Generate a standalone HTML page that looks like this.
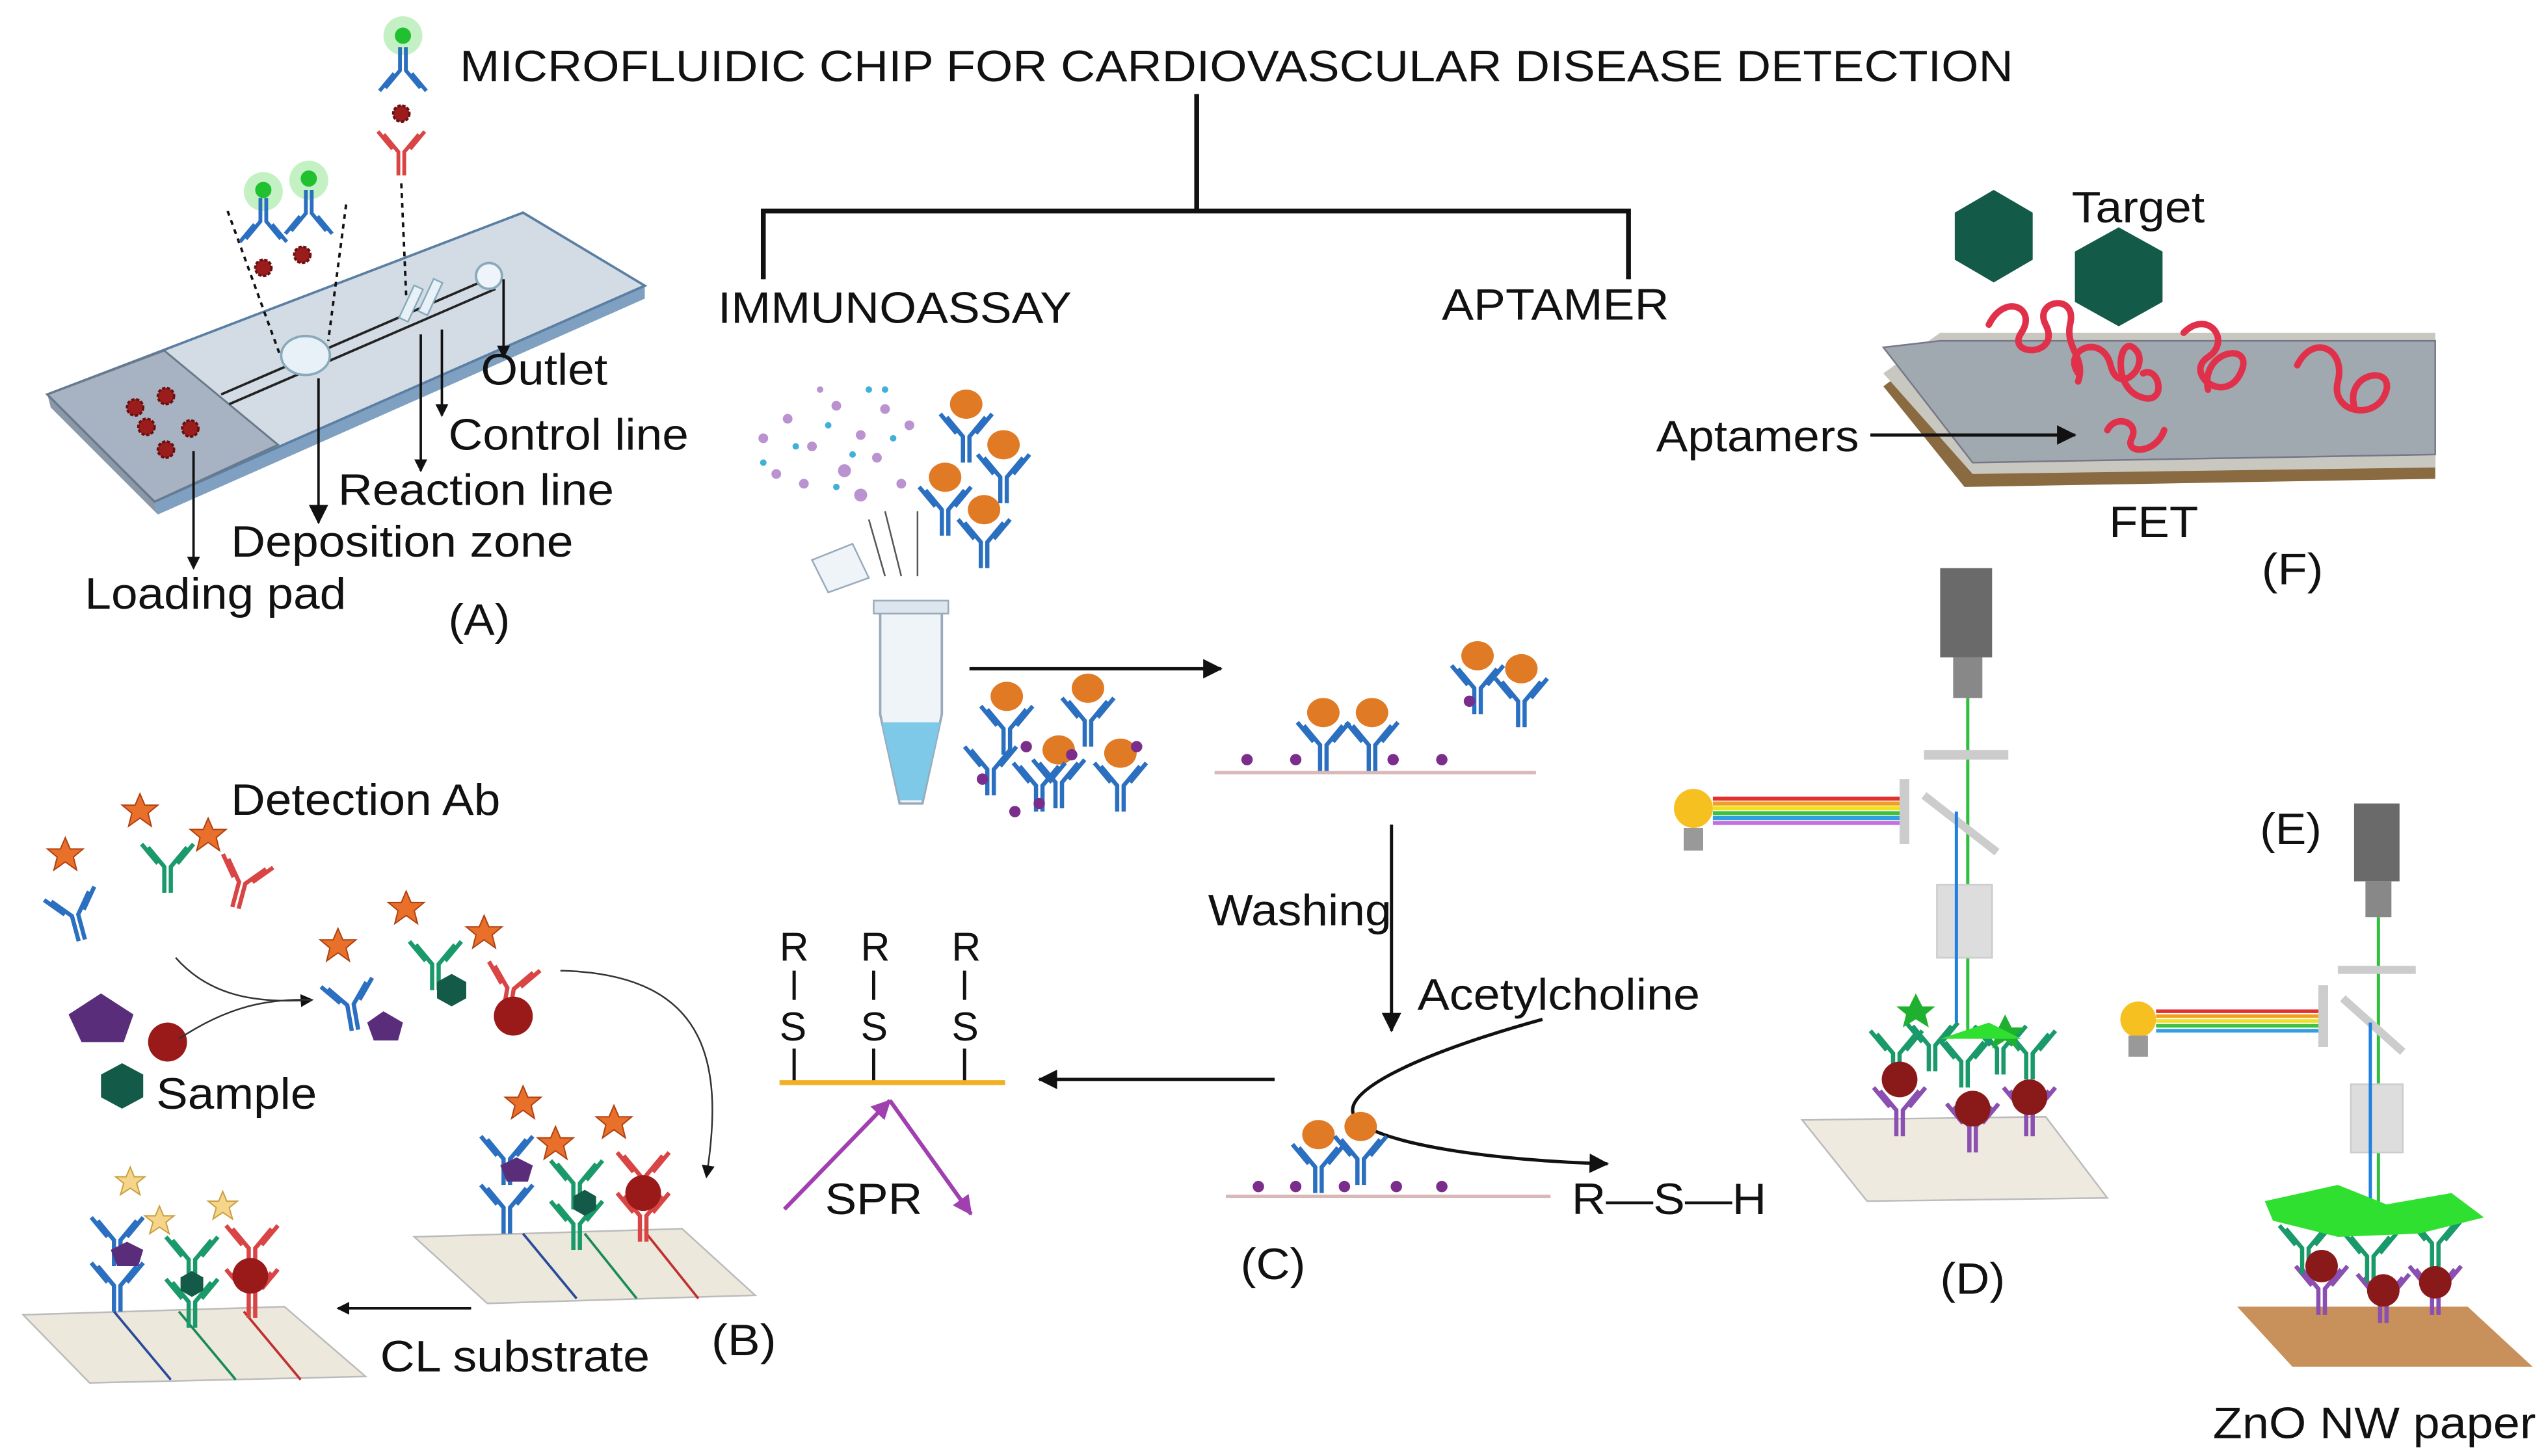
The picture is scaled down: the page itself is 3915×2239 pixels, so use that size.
<!DOCTYPE html>
<html><head><meta charset="utf-8"><style>
html,body{margin:0;padding:0;background:#fff;}
svg{display:block}
text{font-family:"Liberation Sans",Arial,sans-serif;fill:#111;}
</style></head><body>
<svg width="3915" height="2239" viewBox="0 0 1568 897" xmlns="http://www.w3.org/2000/svg">
<defs>
<marker id="ah" markerWidth="8" markerHeight="8" refX="7" refY="4" orient="auto" markerUnits="userSpaceOnUse"><path d="M0,0 L8,4 L0,8 Z" fill="#111"/></marker>
<marker id="ahs" markerWidth="12" markerHeight="12" refX="11" refY="6" orient="auto" markerUnits="userSpaceOnUse"><path d="M0,0 L12,6 L0,12 Z" fill="#111"/></marker>
<marker id="ahp" markerWidth="12" markerHeight="12" refX="11" refY="6" orient="auto" markerUnits="userSpaceOnUse"><path d="M0,0 L12,6 L0,12 Z" fill="#a040b0"/></marker>
<g id="abB"><g fill="none" stroke="#2a6fc0" stroke-width="2.6"><path d="M-2,20 V4 L-12,-8 M2,20 V4 L12,-8 M-6,2 L-16,-10 M6,2 L16,-10"/></g></g>
<g id="abR"><g fill="none" stroke="#d94545" stroke-width="2.6"><path d="M-2,20 V4 L-12,-8 M2,20 V4 L12,-8 M-6,2 L-16,-10 M6,2 L16,-10"/></g></g>
<g id="abG"><g fill="none" stroke="#1a9a6a" stroke-width="2.6"><path d="M-2,20 V4 L-12,-8 M2,20 V4 L12,-8 M-6,2 L-16,-10 M6,2 L16,-10"/></g></g>
<g id="abP"><g fill="none" stroke="#8a4fb0" stroke-width="2.6"><path d="M-2,20 V4 L-12,-8 M2,20 V4 L12,-8 M-6,2 L-16,-10 M6,2 L16,-10"/></g></g>
<g id="fab"><ellipse cx="0" cy="-16" rx="10" ry="9" fill="#e07a25"/><use href="#abB"/></g>
<polygon id="star" points="0,-11 3,-4 11,-4 5,1 7,9 0,4 -7,9 -5,1 -11,-4 -3,-4" fill="#e8702a" stroke="#b04010" stroke-width="0.8"/>
<polygon id="starL" points="0,-9 2.5,-3 9,-3 4,1 6,8 0,4 -6,8 -4,1 -9,-3 -2.5,-3" fill="#f5d58a" stroke="#c9a040" stroke-width="0.8"/>
<circle id="ag" r="5" fill="#9a1c1c" stroke="#6a0f0f" stroke-width="1.5" stroke-dasharray="2 1"/>
</defs>

<text x="283" y="50" font-size="27" textLength="957" lengthAdjust="spacingAndGlyphs">MICROFLUIDIC CHIP FOR CARDIOVASCULAR DISEASE DETECTION</text>
<path d="M737,58 V130 M470,172 V130 H1003 V172" fill="none" stroke="#111" stroke-width="3"/>
<text x="442" y="199" font-size="27" textLength="218" lengthAdjust="spacingAndGlyphs">IMMUNOASSAY</text>
<text x="888" y="197" font-size="27" textLength="140" lengthAdjust="spacingAndGlyphs">APTAMER</text>

<!-- (A) chip -->
<polygon points="29,243 95,309 97,317 31,251" fill="#8a98a8"/>
<polygon points="95,309 397,176 397,184 97,317" fill="#7fa0c0"/>
<polygon points="29,243 322,131 397,176 95,309" fill="#d3dbe4" stroke="#5a7fa3" stroke-width="1.5"/>
<polygon points="29,243 101,216 171,274 95,309" fill="#a7b3c2" stroke="#6a7a8a" stroke-width="1.2"/>
<path d="M136,243 L300,172 M141,249 L305,178" stroke="#222" stroke-width="1.5"/>
<ellipse cx="188" cy="219" rx="15" ry="12" fill="#e8f0f8" stroke="#8ab" stroke-width="1.5"/>
<circle cx="301" cy="170" r="8" fill="#eef4fa" stroke="#8ab" stroke-width="1.5"/>
<rect x="250" y="176" width="6" height="22" fill="#e8f0f8" stroke="#8ab" transform="rotate(25 253 187)"/>
<rect x="262" y="172" width="6" height="22" fill="#e8f0f8" stroke="#8ab" transform="rotate(25 265 183)"/>
<use href="#ag" x="83" y="251"/><use href="#ag" x="102" y="244"/><use href="#ag" x="90" y="263"/><use href="#ag" x="117" y="264"/><use href="#ag" x="102" y="277"/>
<g stroke="#111" stroke-width="1.5" stroke-dasharray="3 3" fill="none"><path d="M140,130 L172,218 M213,126 L202,210 M247,113 L250,182"/></g>
<circle cx="162" cy="118" r="12" fill="#9de89d" opacity="0.6"/><circle cx="162" cy="117" r="5" fill="#20c030"/>
<circle cx="190" cy="111" r="12" fill="#9de89d" opacity="0.6"/><circle cx="190" cy="110" r="5" fill="#20c030"/>
<circle cx="248" cy="22" r="12" fill="#9de89d" opacity="0.6"/><circle cx="248" cy="22" r="5" fill="#20c030"/>
<use href="#abB" transform="translate(162,140) scale(0.9,-0.9)"/>
<use href="#abB" transform="translate(190,135) scale(0.9,-0.9)"/>
<use href="#abB" transform="translate(248,47) scale(0.9,-0.9)"/>
<use href="#abR" transform="translate(247,90) scale(0.9)"/>
<use href="#ag" x="162" y="165"/><use href="#ag" x="186" y="157"/><use href="#ag" x="247" y="70"/>
<g stroke="#111" stroke-width="1.5" fill="none">
<path d="M119,278 V350" marker-end="url(#ah)"/>
<path d="M196,233 V322" marker-end="url(#ahs)"/>
<path d="M259,206 V290" marker-end="url(#ah)"/>
<path d="M272,203 V256" marker-end="url(#ah)"/>
<path d="M310,172 V220" marker-end="url(#ah)"/>
</g>
<g font-size="27" lengthAdjust="spacingAndGlyphs">
<text x="296" y="237" textLength="78" lengthAdjust="spacingAndGlyphs">Outlet</text>
<text x="276" y="277" textLength="148" lengthAdjust="spacingAndGlyphs">Control line</text>
<text x="208" y="311" textLength="170" lengthAdjust="spacingAndGlyphs">Reaction line</text>
<text x="142" y="343" textLength="211" lengthAdjust="spacingAndGlyphs">Deposition zone</text>
<text x="52" y="375" textLength="161" lengthAdjust="spacingAndGlyphs">Loading pad</text>
<text x="276" y="391" textLength="38" lengthAdjust="spacingAndGlyphs">(A)</text>
</g>

<!-- Immunoassay -->
<g fill="#b080c8" opacity="0.85">
<circle cx="470" cy="270" r="3"/><circle cx="485" cy="258" r="3"/><circle cx="500" cy="275" r="3"/><circle cx="515" cy="250" r="3"/><circle cx="530" cy="268" r="3"/><circle cx="545" cy="252" r="3"/><circle cx="478" cy="292" r="3"/><circle cx="495" cy="298" r="3"/><circle cx="520" cy="290" r="4"/><circle cx="540" cy="282" r="3"/><circle cx="505" cy="240" r="2"/><circle cx="560" cy="262" r="3"/><circle cx="530" cy="305" r="4"/><circle cx="555" cy="298" r="3"/>
</g>
<g fill="#40b0d8"><circle cx="490" cy="275" r="2"/><circle cx="510" cy="262" r="2"/><circle cx="525" cy="280" r="2"/><circle cx="550" cy="270" r="2"/><circle cx="535" cy="240" r="2"/><circle cx="470" cy="285" r="2"/><circle cx="515" cy="300" r="2"/><circle cx="545" cy="240" r="2"/></g>
<use href="#fab" x="595" y="265"/><use href="#fab" x="618" y="290"/><use href="#fab" x="582" y="310"/><use href="#fab" x="606" y="330"/>
<path d="M545,315 L555,355 M565,315 L565,355 M535,320 L545,355" stroke="#555" stroke-width="1"/>
<path d="M542,375 H580 V440 L568,495 H554 L542,440 Z" fill="#eef4f8" stroke="#9ab" stroke-width="1.5"/>
<path d="M543,445 H579 L568,493 H554 Z" fill="#7ec8e8"/>
<path d="M500,345 L525,335 L535,356 L510,365 Z" fill="#eef4f8" stroke="#9ab"/>
<rect x="538" y="370" width="46" height="8" fill="#dde6ee" stroke="#9ab"/>
<path d="M597,412 H752" stroke="#111" stroke-width="2" marker-end="url(#ahs)"/>
<use href="#fab" x="620" y="445"/><use href="#fab" x="670" y="440"/><use href="#fab" x="652" y="478"/><use href="#fab" x="690" y="480"/><use href="#abB" x="610" y="470"/><use href="#abB" x="640" y="480"/>
<g fill="#7a2d8a"><circle cx="605" cy="480" r="3.5"/><circle cx="632" cy="460" r="3.5"/><circle cx="660" cy="465" r="3.5"/><circle cx="640" cy="495" r="3.5"/><circle cx="700" cy="460" r="3.5"/><circle cx="625" cy="500" r="3.5"/></g>
<line x1="748" y1="476" x2="946" y2="476" stroke="#d8b8b8" stroke-width="2"/>
<use href="#fab" x="815" y="455"/><use href="#fab" x="845" y="455"/><use href="#fab" x="910" y="420"/><use href="#fab" x="937" y="428"/>
<g fill="#7a2d8a"><circle cx="768" cy="468" r="3.5"/><circle cx="798" cy="468" r="3.5"/><circle cx="858" cy="468" r="3.5"/><circle cx="888" cy="468" r="3.5"/><circle cx="905" cy="432" r="3.5"/></g>
<path d="M857,508 V635" stroke="#111" stroke-width="2" marker-end="url(#ahs)"/>
<text x="744" y="570" font-size="27" textLength="113" lengthAdjust="spacingAndGlyphs">Washing</text>
<text x="873" y="622" font-size="27" textLength="174" lengthAdjust="spacingAndGlyphs">Acetylcholine</text>
<path d="M950,628 C870,650 820,675 836,690 C850,705 920,715 990,717" fill="none" stroke="#111" stroke-width="2" marker-end="url(#ahs)"/>
<line x1="755" y1="737" x2="955" y2="737" stroke="#d8b8b8" stroke-width="2"/>
<use href="#fab" x="812" y="715"/><use href="#fab" x="838" y="710"/>
<g fill="#7a2d8a"><circle cx="775" cy="731" r="3.5"/><circle cx="798" cy="731" r="3.5"/><circle cx="828" cy="731" r="3.5"/><circle cx="860" cy="731" r="3.5"/><circle cx="888" cy="731" r="3.5"/></g>
<text x="968" y="748" font-size="27" textLength="120" lengthAdjust="spacingAndGlyphs">R—S—H</text>
<text x="764" y="788" font-size="27" textLength="40" lengthAdjust="spacingAndGlyphs">(C)</text>
<path d="M785,665 H640" stroke="#111" stroke-width="2" marker-end="url(#ahs)"/>
<g font-size="25"><text x="480" y="592">R</text><text x="530" y="592">R</text><text x="586" y="592">R</text>
<text x="480" y="641">S</text><text x="530" y="641">S</text><text x="586" y="641">S</text></g>
<g stroke="#111" stroke-width="2"><path d="M489,598 V616 M538,598 V616 M594,598 V616 M489,646 V666 M538,646 V666 M594,646 V666"/></g>
<line x1="480" y1="667" x2="619" y2="667" stroke="#f0b020" stroke-width="3"/>
<path d="M483,745 L548,678" stroke="#a040b0" stroke-width="2.5" marker-end="url(#ahp)"/>
<path d="M548,678 L598,748" stroke="#a040b0" stroke-width="2.5" marker-end="url(#ahp)"/>
<text x="508" y="748" font-size="27" textLength="60" lengthAdjust="spacingAndGlyphs">SPR</text>

<!-- (B) -->
<text x="142" y="502" font-size="27" textLength="166" lengthAdjust="spacingAndGlyphs">Detection Ab</text>
<use href="#star" x="40" y="527"/><use href="#abB" transform="translate(45,560) rotate(-15)"/>
<use href="#star" x="86" y="500"/><use href="#abG" transform="translate(103,530)"/>
<use href="#star" x="128" y="515"/><use href="#abR" transform="translate(150,540) rotate(15)"/>
<polygon points="62,612 82,625 76,642 50,642 42,625" fill="#5a2d7a"/>
<circle cx="103" cy="642" r="12" fill="#9a1a1a"/>
<polygon points="75,655 88,662 88,676 75,683 62,676 62,662" fill="#145a48"/>
<text x="96" y="683" font-size="27" textLength="99" lengthAdjust="spacingAndGlyphs">Sample</text>
<path d="M108,590 C130,615 160,618 192,616" fill="none" stroke="#333" stroke-width="1" marker-end="url(#ah)"/>
<path d="M110,640 C140,620 165,615 192,616" fill="none" stroke="#333" stroke-width="1"/>
<use href="#star" x="208" y="583"/><use href="#abB" transform="translate(215,615) rotate(-10)"/>
<polygon points="236,623 248,630 245,641 230,641 226,630" fill="#5a2d7a"/>
<use href="#star" x="250" y="560"/><use href="#abG" transform="translate(268,590)"/>
<polygon points="278,600 287,605 287,615 278,620 269,615 269,605" fill="#145a48"/>
<use href="#star" x="298" y="575"/><use href="#abR" transform="translate(315,605) rotate(10)"/>
<circle cx="316" cy="626" r="12" fill="#9a1a1a"/>
<path d="M345,598 C440,600 445,660 435,725" fill="none" stroke="#333" stroke-width="1" marker-end="url(#ah)"/>
<polygon points="255,762 420,757 465,798 300,803" fill="#ece8dc" stroke="#bbb"/>
<g stroke-width="1.5"><line x1="322" y1="760" x2="355" y2="800" stroke="#2a4a9a"/><line x1="360" y1="760" x2="392" y2="800" stroke="#1a8a5a"/><line x1="398" y1="760" x2="430" y2="800" stroke="#c03030"/></g>
<use href="#abB" x="312" y="710"/><use href="#abB" x="312" y="740"/><use href="#abG" x="355" y="725"/><use href="#abG" x="355" y="750"/><use href="#abR" x="396" y="720"/><use href="#abR" x="396" y="745"/>
<polygon points="318,713 328,718 325,728 312,728 308,718" fill="#5a2d7a"/>
<polygon points="360,733 367,737 367,745 360,749 353,745 353,737" fill="#145a48"/>
<circle cx="396" cy="735" r="11" fill="#9a1a1a"/>
<use href="#star" x="322" y="680"/><use href="#star" x="342" y="705"/><use href="#star" x="378" y="692"/>
<text x="438" y="835" font-size="27" textLength="40" lengthAdjust="spacingAndGlyphs">(B)</text>
<path d="M290,806 H208" stroke="#111" stroke-width="1.5" marker-end="url(#ah)"/>
<text x="234" y="845" font-size="27" textLength="166" lengthAdjust="spacingAndGlyphs">CL substrate</text>
<polygon points="14,810 175,805 225,848 55,852" fill="#ece8dc" stroke="#bbb"/>
<g stroke-width="1.5"><line x1="70" y1="808" x2="105" y2="850" stroke="#2a4a9a"/><line x1="110" y1="808" x2="145" y2="850" stroke="#1a8a5a"/><line x1="150" y1="808" x2="185" y2="850" stroke="#c03030"/></g>
<use href="#abB" x="72" y="760"/><use href="#abB" x="72" y="788"/><use href="#abG" x="118" y="772"/><use href="#abG" x="118" y="798"/><use href="#abR" x="155" y="765"/><use href="#abR" x="155" y="792"/>
<polygon points="78,765 88,770 85,780 72,780 68,770" fill="#5a2d7a"/>
<polygon points="118,783 125,787 125,795 118,799 111,795 111,787" fill="#145a48"/>
<circle cx="154" cy="786" r="11" fill="#9a1a1a"/>
<use href="#starL" x="80" y="728"/><use href="#starL" x="98" y="752"/><use href="#starL" x="137" y="743"/>

<!-- (F) -->
<polygon points="1160,238 1195,212 1500,212 1500,295 1210,300" fill="#8a6a40"/>
<polygon points="1160,230 1195,205 1500,205 1500,288 1215,292" fill="#c8c8c0"/>
<polygon points="1160,214 1195,210 1500,210 1500,280 1215,285" fill="#a0a8b0" stroke="#778" />
<polygon points="1228,117 1252,131 1252,160 1228,174 1204,160 1204,131" fill="#145a48"/>
<polygon points="1305,140 1332,155 1332,186 1305,201 1278,186 1278,155" fill="#145a48"/>
<g fill="none" stroke="#e0304a" stroke-width="4" stroke-linecap="round">
<path d="M1225,200 c10,-20 30,-10 20,5 c-10,15 25,15 15,-5 c-8,-15 20,-20 15,0 c-3,15 10,20 5,35"/>
<path d="M1280,230 c-10,-15 15,-25 20,-5 c5,20 25,0 15,-10 c-10,-10 -15,25 5,30 c15,4 10,-20 0,-15"/>
<path d="M1345,205 c15,-15 30,5 15,15 c-15,10 10,30 20,10 c10,-20 -25,-15 -20,10"/>
<path d="M1415,225 c10,-20 30,-10 25,10 c-5,20 25,25 30,5 c3,-15 -25,-10 -20,10"/>
<path d="M1298,265 c5,-10 20,-5 15,5 c-5,10 15,10 20,-5"/>
</g>
<text x="1276" y="137" font-size="27" textLength="82" lengthAdjust="spacingAndGlyphs">Target</text>
<text x="1020" y="278" font-size="27" textLength="125" lengthAdjust="spacingAndGlyphs">Aptamers</text>
<path d="M1152,268 H1278" stroke="#111" stroke-width="2" marker-end="url(#ahs)"/>
<text x="1299" y="331" font-size="27" textLength="55" lengthAdjust="spacingAndGlyphs">FET</text>
<text x="1393" y="360" font-size="27" textLength="38" lengthAdjust="spacingAndGlyphs">(F)</text>

<!-- (D) -->
<rect x="1195" y="350" width="32" height="55" fill="#6a6a6a"/><rect x="1203" y="405" width="18" height="25" fill="#888"/>
<line x1="1212" y1="430" x2="1212" y2="640" stroke="#30c040" stroke-width="2"/>
<rect x="1185" y="462" width="52" height="6" fill="#ccc"/>
<line x1="1185" y1="490" x2="1230" y2="525" stroke="#ccc" stroke-width="5"/>
<rect x="1170" y="480" width="6" height="40" fill="#ccc"/>
<rect x="1193" y="545" width="34" height="45" fill="#ddd" stroke="#ccc"/>
<circle cx="1043" cy="498" r="12" fill="#f5c020"/><rect x="1037" y="510" width="12" height="14" fill="#999"/>
<g stroke-width="2.5"><line x1="1055" y1="492" x2="1170" y2="492" stroke="#e03030"/><line x1="1055" y1="495" x2="1170" y2="495" stroke="#f0a020"/><line x1="1055" y1="498" x2="1170" y2="498" stroke="#f0e020"/><line x1="1055" y1="501" x2="1170" y2="501" stroke="#40c040"/><line x1="1055" y1="504" x2="1170" y2="504" stroke="#30a0e0"/><line x1="1055" y1="507" x2="1170" y2="507" stroke="#c070e0"/></g>
<path d="M1205,500 V630" stroke="#2080e0" stroke-width="2"/>
<polygon points="1110,690 1260,688 1298,738 1150,740" fill="#eeeae0" stroke="#bbb"/>
<use href="#abP" x="1170" y="680"/><use href="#abP" x="1215" y="690"/><use href="#abP" x="1250" y="680"/>
<use href="#abG" x="1168" y="645"/><use href="#abG" x="1210" y="650"/><use href="#abG" x="1250" y="645"/><use href="#abG" x="1190" y="640"/><use href="#abG" x="1232" y="642"/>
<circle cx="1170" cy="665" r="11" fill="#8a1a1a"/><circle cx="1215" cy="683" r="11" fill="#8a1a1a"/><circle cx="1250" cy="676" r="11" fill="#8a1a1a"/>
<g fill="#20b030"><polygon points="1180,612 1184,620 1192,620 1186,625 1188,633 1180,628 1172,633 1174,625 1168,620 1176,620"/><polygon points="1235,625 1239,633 1247,633 1241,638 1243,646 1235,641 1227,646 1229,638 1223,633 1231,633"/></g>
<path d="M1195,640 L1225,630 L1245,640 Z" fill="#30e030"/>
<text x="1195" y="797" font-size="27" textLength="40" lengthAdjust="spacingAndGlyphs">(D)</text>

<!-- (E) -->
<text x="1392" y="520" font-size="27" textLength="38" lengthAdjust="spacingAndGlyphs">(E)</text>
<rect x="1450" y="495" width="28" height="48" fill="#6a6a6a"/><rect x="1457" y="543" width="16" height="22" fill="#888"/>
<line x1="1465" y1="565" x2="1465" y2="750" stroke="#30c040" stroke-width="2"/>
<rect x="1440" y="595" width="48" height="5" fill="#ccc"/>
<line x1="1443" y1="615" x2="1480" y2="648" stroke="#ccc" stroke-width="5"/>
<rect x="1428" y="607" width="6" height="38" fill="#ccc"/>
<rect x="1448" y="668" width="32" height="42" fill="#ddd" stroke="#ccc"/>
<circle cx="1317" cy="628" r="11" fill="#f5c020"/><rect x="1311" y="638" width="12" height="13" fill="#999"/>
<g stroke-width="2.2"><line x1="1328" y1="623" x2="1428" y2="623" stroke="#e03030"/><line x1="1328" y1="626" x2="1428" y2="626" stroke="#f0a020"/><line x1="1328" y1="629" x2="1428" y2="629" stroke="#f0e020"/><line x1="1328" y1="632" x2="1428" y2="632" stroke="#40c040"/><line x1="1328" y1="635" x2="1428" y2="635" stroke="#30a0e0"/></g>
<path d="M1460,630 V740" stroke="#2080e0" stroke-width="2"/>
<polygon points="1378,805 1520,805 1560,842 1412,842" fill="#c8905a"/>
<use href="#abP" x="1430" y="790"/><use href="#abP" x="1468" y="795"/><use href="#abP" x="1500" y="790"/>
<use href="#abG" x="1420" y="765"/><use href="#abG" x="1460" y="770"/><use href="#abG" x="1500" y="762"/>
<circle cx="1430" cy="780" r="10" fill="#8a1a1a"/><circle cx="1468" cy="795" r="10" fill="#8a1a1a"/><circle cx="1500" cy="790" r="10" fill="#8a1a1a"/>
<path d="M1395,740 L1440,730 L1470,742 L1510,735 L1530,750 L1490,760 L1440,762 L1400,752 Z" fill="#30e030"/>
<text x="1363" y="886" font-size="27" textLength="199" lengthAdjust="spacingAndGlyphs">ZnO NW paper</text>
</svg>
</body></html>
